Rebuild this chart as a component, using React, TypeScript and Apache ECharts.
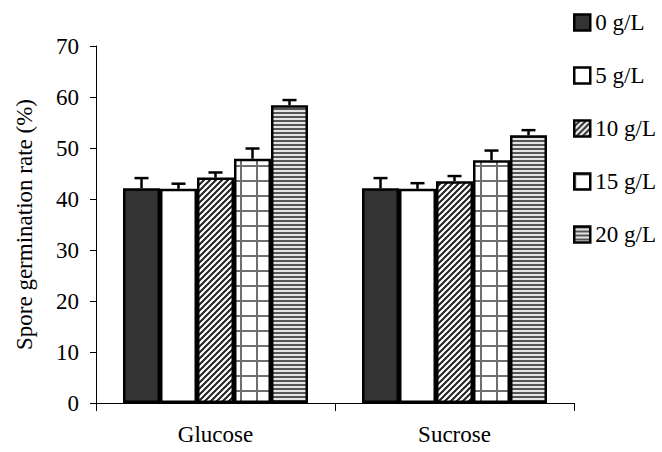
import React, { useEffect, useRef } from "react";
import * as echarts from "echarts";

const categories = ["Glucose", "Sucrose"];
const concentrations = ["0 g/L", "5 g/L", "10 g/L", "15 g/L", "20 g/L"];
const mean0 = [42.1, 42.1];
const mean5 = [42.0, 42.0];
const mean10 = [44.2, 43.5];
const mean15 = [47.9, 47.6];
const mean20 = [58.4, 52.5];
const err0 = [2.0, 2.0];
const err5 = [1.0, 1.1];
const err10 = [1.0, 1.0];
const err15 = [2.0, 1.9];
const err20 = [1.0, 1.0];
const yTicks = [0, 10, 20, 30, 40, 50, 60, 70];

const FONT = '"Liberation Serif", "Times New Roman", serif';
const GAP = 0.226;

function makeTile(w: number, h: number, draw: (ctx: CanvasRenderingContext2D) => void) {
  const c = document.createElement("canvas");
  c.width = w;
  c.height = h;
  const ctx = c.getContext("2d") as CanvasRenderingContext2D;
  draw(ctx);
  return c;
}

export default function App() {
  const ref = useRef<HTMLDivElement>(null);
  useEffect(() => {
    if (!ref.current) return;
    const chart = echarts.init(ref.current, null, { renderer: "svg" });

    const diag = makeTile(6, 6, (ctx) => {
      ctx.fillStyle = "#fff";
      ctx.fillRect(0, 0, 6, 6);
      ctx.strokeStyle = "#222";
      ctx.lineWidth = 2;
      ctx.beginPath();
      ctx.moveTo(-1, 7);
      ctx.lineTo(7, -1);
      ctx.moveTo(-4, 4);
      ctx.lineTo(4, -4);
      ctx.moveTo(2, 10);
      ctx.lineTo(10, 2);
      ctx.stroke();
    });
    const grid = makeTile(16, 15, (ctx) => {
      ctx.fillStyle = "#fff";
      ctx.fillRect(0, 0, 16, 15);
      ctx.fillStyle = "#6f6f6f";
      ctx.fillRect(0, 0, 2, 15);
      ctx.fillRect(0, 0, 16, 2);
    });
    const stripes = makeTile(4, 4, (ctx) => {
      ctx.fillStyle = "#e4e4e4";
      ctx.fillRect(0, 0, 4, 4);
      ctx.fillStyle = "#555";
      ctx.fillRect(0, 0, 4, 2);
    });

    const fills: any[] = [
      "#333333",
      "#ffffff",
      { image: diag, repeat: "repeat" },
      { image: grid, repeat: "repeat" },
      { image: stripes, repeat: "repeat" },
    ];
    const means = [mean0, mean5, mean10, mean15, mean20];
    const errs = [err0, err5, err10, err15, err20];

    const barSeries = concentrations.map((name, i) => ({
      name,
      type: "bar",
      data: means[i],
      barGap: "0%",
      barCategoryGap: (GAP * 100).toFixed(1) + "%",
      itemStyle: { color: fills[i], borderColor: "#000", borderWidth: 2.5 },
      z: 2,
    }));

    const errData: number[][] = [];
    means.forEach((m, si) => {
      m.forEach((v, ci) => {
        errData.push([ci, si, v, errs[si][ci]]);
      });
    });

    const option: any = {
      animation: false,
      backgroundColor: "#fff",
      textStyle: { fontFamily: FONT },
      grid: { left: 96, right: 88, top: 46, bottom: 49 },
      legend: {
        orient: "vertical",
        left: 573,
        top: 11,
        padding: 0,
        itemWidth: 16,
        itemHeight: 16,
        itemGap: 30,
        data: concentrations,
        icon: "rect",
        itemStyle: { borderColor: "#000", borderWidth: 2.5 },
        textStyle: { fontFamily: FONT, fontSize: 23, color: "#000", lineHeight: 23 },
      },
      xAxis: {
        type: "category",
        data: categories,
        axisLine: { lineStyle: { color: "#000", width: 1 } },
        axisTick: { show: true, length: 8, lineStyle: { color: "#000" } },
        axisLabel: { fontFamily: FONT, fontSize: 23, color: "#000", margin: 20 },
      },
      yAxis: {
        type: "value",
        min: yTicks[0],
        max: yTicks[yTicks.length - 1],
        interval: 10,
        splitLine: { show: false },
        axisLine: { show: true, lineStyle: { color: "#000", width: 1 } },
        axisTick: { show: true, length: 6, lineStyle: { color: "#000" } },
        axisLabel: { fontFamily: FONT, fontSize: 23, color: "#000", margin: 17 },
        name: "Spore germination rate (%)",
        nameLocation: "middle",
        nameGap: 60,
        nameTextStyle: { fontFamily: FONT, fontSize: 23, color: "#000" },
      },
      series: [
        ...barSeries,
        {
          type: "custom",
          name: "err",
          data: errData,
          encode: { x: 0, y: 2 },
          z: 5,
          renderItem: (params: any, api: any) => {
            const ci = api.value(0);
            const si = api.value(1);
            const v = api.value(2);
            const e = api.value(3);
            const base = api.coord([ci, v]);
            const top = api.coord([ci, v + e]);
            const band = api.size([1, 0])[0];
            const bw = (band * (1 - GAP)) / 5;
            const x = base[0] + (si - 2) * bw;
            const st = { stroke: "#000", lineWidth: 2.5 };
            return {
              type: "group",
              children: [
                { type: "line", shape: { x1: x, y1: base[1], x2: x, y2: top[1] }, style: st },
                { type: "line", shape: { x1: x - 7, y1: top[1], x2: x + 7, y2: top[1] }, style: st },
              ],
            };
          },
        },
      ],
    };
    chart.setOption(option);
    return () => chart.dispose();
  }, []);
  return (
    <div
      ref={ref}
      style={{ position: "fixed", left: 0, top: 0, width: 662, height: 452, background: "#fff" }}
    />
  );
}
